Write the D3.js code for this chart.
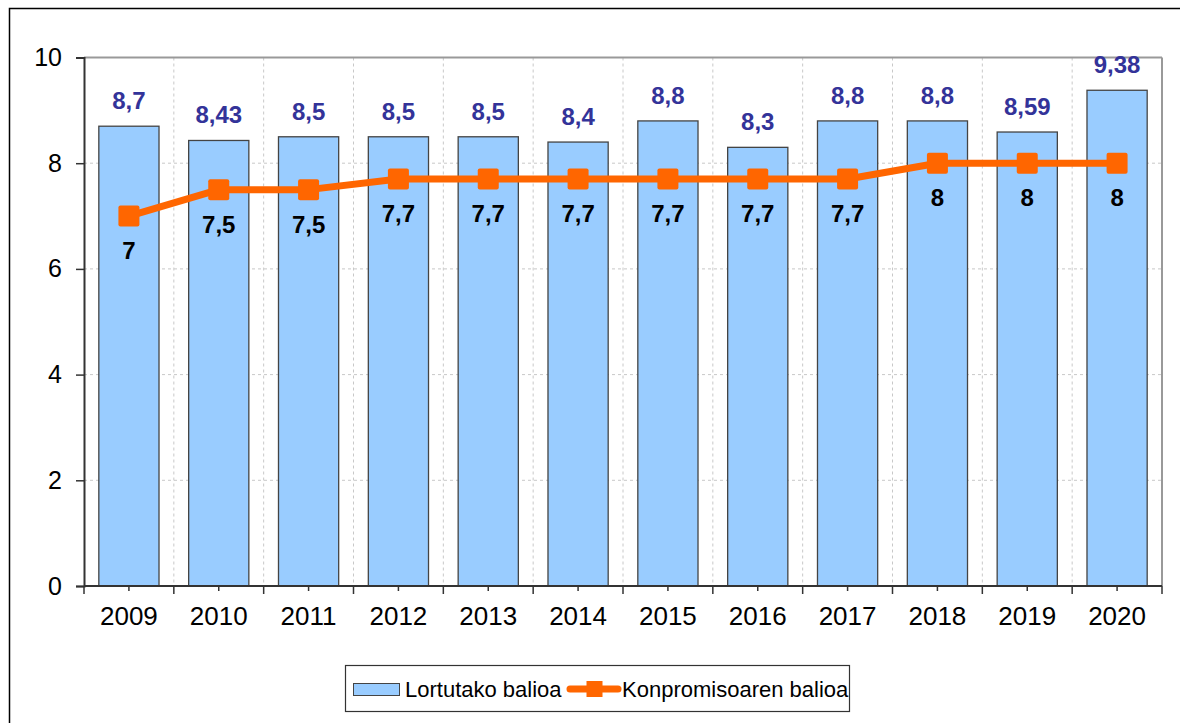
<!DOCTYPE html>
<html>
<head>
<meta charset="utf-8">
<script src="https://cdn.jsdelivr.net/npm/d3@7"></script>
<style>
  body { margin: 0; background: #fff; }
  svg { display: block; font-family: Arial, "Liberation Sans", sans-serif; }
</style>
</head>
<body>
<svg id="chart" width="1180" height="723"></svg>
<script>
var years = ["2009","2010","2011","2012","2013","2014","2015","2016","2017","2018","2019","2020"];
var lortutako = [8.7, 8.43, 8.5, 8.5, 8.5, 8.4, 8.8, 8.3, 8.8, 8.8, 8.59, 9.38];
var konpromiso = [7, 7.5, 7.5, 7.7, 7.7, 7.7, 7.7, 7.7, 7.7, 8, 8, 8];
var yTicks = [0, 2, 4, 6, 8, 10];

var svg = d3.select("#chart");

// outer frame (right and bottom run off the page)
svg.append("rect")
  .attr("x", 9.5).attr("y", 8.5)
  .attr("width", 1200).attr("height", 730)
  .attr("fill", "none").attr("stroke", "#000").attr("stroke-width", 1.5);

var plotL = 84, plotR = 1162, plotT = 57.5, plotB = 586;

var x = d3.scaleBand().domain(years).range([plotL, plotR]).paddingInner(0.33).paddingOuter(0.165);
var xb = d3.scaleBand().domain(years).range([plotL, plotR]);
var y = d3.scaleLinear().domain([0, 10]).range([plotB, plotT]);

var fmt = function(v){ return String(v).replace(".", ","); };

// grid
var grid = svg.append("g");
grid.selectAll("line.h").data(yTicks.filter(function(d){ return d > 0 && d < 10; }))
  .enter().append("line")
  .attr("x1", plotL).attr("x2", plotR)
  .attr("y1", function(d){ return y(d); }).attr("y2", function(d){ return y(d); })
  .attr("stroke", "#c8c8c8").attr("stroke-dasharray", "3,3");
grid.selectAll("line.v").data(years.slice(1))
  .enter().append("line")
  .attr("x1", function(d){ return xb(d); }).attr("x2", function(d){ return xb(d); })
  .attr("y1", plotT).attr("y2", plotB)
  .attr("stroke", "#c8c8c8").attr("stroke-dasharray", "3,3");

// plot frame top / right
svg.append("line").attr("x1", plotL).attr("x2", plotR).attr("y1", plotT).attr("y2", plotT)
  .attr("stroke", "#999").attr("stroke-width", 2);
svg.append("line").attr("x1", plotR).attr("x2", plotR).attr("y1", plotT).attr("y2", plotB)
  .attr("stroke", "#999").attr("stroke-width", 2);

// bars
svg.append("g").selectAll("rect").data(lortutako).enter().append("rect")
  .attr("x", function(d, i){ return x(years[i]); })
  .attr("width", x.bandwidth())
  .attr("y", function(d){ return y(d); })
  .attr("height", function(d){ return y(0) - y(d); })
  .attr("fill", "#99CCFF").attr("stroke", "#444").attr("stroke-width", 1.3);

// bar labels
svg.append("g").selectAll("text").data(lortutako).enter().append("text")
  .attr("x", function(d, i){ return x(years[i]) + x.bandwidth() / 2; })
  .attr("y", function(d){ return y(d) - 17; })
  .attr("text-anchor", "middle")
  .attr("font-size", 24).attr("font-weight", "bold").attr("fill", "#333399")
  .text(fmt);

// axes
var yAxis = d3.axisLeft(y).tickValues(yTicks).tickSize(8).tickPadding(14).tickFormat(d3.format("d"));
var gy = svg.append("g").attr("transform", "translate(" + plotL + ",0)").call(yAxis);
gy.select(".domain").attr("stroke", "#333").attr("stroke-width", 2);
gy.selectAll(".tick line").attr("stroke", "#333").attr("stroke-width", 1.5);
gy.selectAll(".tick text").attr("font-size", 25).attr("fill", "#000").attr("font-family", null);

var gx = svg.append("g").attr("transform", "translate(0," + plotB + ")");
gx.append("line").attr("x1", plotL).attr("x2", plotR).attr("stroke", "#333").attr("stroke-width", 2);
gx.selectAll("line.major").data(d3.range(years.length + 1)).enter().append("line")
  .attr("x1", function(i){ return plotL + i * xb.step(); })
  .attr("x2", function(i){ return plotL + i * xb.step(); })
  .attr("y1", 0).attr("y2", 8).attr("stroke", "#333").attr("stroke-width", 1.5);
gx.selectAll("line.minor").data(years).enter().append("line")
  .attr("x1", function(d){ return xb(d) + xb.bandwidth() / 2; })
  .attr("x2", function(d){ return xb(d) + xb.bandwidth() / 2; })
  .attr("y1", 0).attr("y2", 5).attr("stroke", "#333").attr("stroke-width", 1.5);
gx.selectAll("text").data(years).enter().append("text")
  .attr("x", function(d){ return xb(d) + xb.bandwidth() / 2; })
  .attr("y", 39)
  .attr("text-anchor", "middle").attr("font-size", 26).attr("fill", "#000")
  .text(function(d){ return d; });

// line series
var cx = function(i){ return xb(years[i]) + xb.bandwidth() / 2; };
var line = d3.line().x(function(d, i){ return cx(i); }).y(function(d){ return y(d); });
svg.append("path").datum(konpromiso)
  .attr("d", line).attr("fill", "none")
  .attr("stroke", "#FF6600").attr("stroke-width", 7).attr("stroke-linejoin", "round");
svg.append("g").selectAll("rect").data(konpromiso).enter().append("rect")
  .attr("x", function(d, i){ return cx(i) - 10.5; })
  .attr("y", function(d){ return y(d) - 10.5; })
  .attr("width", 21).attr("height", 21).attr("rx", 2)
  .attr("fill", "#FF6600");
svg.append("g").selectAll("text").data(konpromiso).enter().append("text")
  .attr("x", function(d, i){ return cx(i); })
  .attr("y", function(d){ return y(d) + 43; })
  .attr("text-anchor", "middle")
  .attr("font-size", 24).attr("font-weight", "bold").attr("fill", "#000")
  .text(fmt);

// legend
var lg = svg.append("g");
lg.append("rect").attr("x", 345.5).attr("y", 665.5).attr("width", 504).attr("height", 46)
  .attr("fill", "#fff").attr("stroke", "#333").attr("stroke-width", 1.2);
lg.append("rect").attr("x", 353.5).attr("y", 683.5).attr("width", 46).attr("height", 12)
  .attr("fill", "#99CCFF").attr("stroke", "#444");
lg.append("text").attr("x", 405).attr("y", 697).attr("font-size", 22).attr("fill", "#000")
  .text("Lortutako balioa");
lg.append("line").attr("x1", 570).attr("x2", 618).attr("y1", 689).attr("y2", 689)
  .attr("stroke", "#FF6600").attr("stroke-width", 7).attr("stroke-linecap", "round");
lg.append("rect").attr("x", 586.5).attr("y", 681).attr("width", 16).attr("height", 16)
  .attr("fill", "#FF6600");
lg.append("text").attr("x", 622).attr("y", 697).attr("font-size", 22).attr("fill", "#000")
  .text("Konpromisoaren balioa");
</script>
</body>
</html>
